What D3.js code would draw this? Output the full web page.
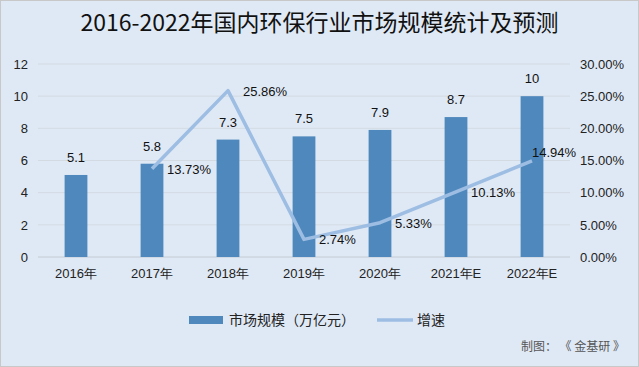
<!DOCTYPE html>
<meta charset="utf-8">
<script src="https://d3js.org/d3.v7.min.js"></script>
<style>
  body { margin: 0; }
  svg { display: block; font-family: "Noto Sans CJK SC", "Liberation Sans", sans-serif; }
</style>
<div id="chart"></div>
<script>
    // data
    const years = ["2016年", "2017年", "2018年", "2019年", "2020年", "2021年E", "2022年E"]
    const marketSize = [5.1, 5.8, 7.3, 7.5, 7.9, 8.7, 10]
    const growth = [null, 13.73, 25.86, 2.74, 5.33, 10.13, 14.94]
    const leftTicks = [0, 2, 4, 6, 8, 10, 12]
    const rightTicks = [0, 5, 10, 15, 20, 25, 30]

    const W = 639, H = 367
    const margin = {top: 64, right: 69, bottom: 110, left: 38}
    const width = W - margin.left - margin.right,
        height = H - margin.top - margin.bottom

    const barColor = "#4f88bc", lineColor = "#9dbde3"

    const svg = d3.select("#chart").append("svg")
        .attr("width", W).attr("height", H)

    // background + border
    svg.append("rect").attr("x", 0.5).attr("y", 0.5)
        .attr("width", W - 1).attr("height", H - 1)
        .attr("fill", "#dfe9f5").attr("stroke", "#c8c8c8")

    svg.append("text")
        .attr("x", W / 2).attr("y", 31)
        .attr("text-anchor", "middle")
        .style("font-size", "23px")
        .attr("fill", "#111")
        .text("2016-2022年国内环保行业市场规模统计及预测")

    const g = svg.append("g").attr("transform", `translate(${margin.left},${margin.top})`)

    const x = d3.scaleBand().domain(years).range([0, width]).paddingInner(0.7).paddingOuter(0.35)
    const y = d3.scaleLinear().domain([0, 12]).range([height, 0])
    const y2 = d3.scaleLinear().domain([0, 30]).range([height, 0])

    // gridlines
    g.append("g").selectAll("line").data(leftTicks).join("line")
        .attr("x1", 0).attr("x2", width)
        .attr("y1", d => y(d)).attr("y2", d => y(d))
        .attr("stroke", d => d === 0 ? "#c4cbd3" : "#d3dae2")

    // left axis
    const yAxis = g.append("g").call(d3.axisLeft(y).tickValues(leftTicks).tickSize(0).tickPadding(10))
    yAxis.select(".domain").remove()
    yAxis.selectAll("text").style("font-size", "13px").attr("fill", "#222").style("font-family", "Liberation Sans")

    // right axis
    const y2Axis = g.append("g").attr("transform", `translate(${width},0)`)
        .call(d3.axisRight(y2).tickValues(rightTicks).tickSize(0).tickPadding(10)
            .tickFormat(d => d.toFixed(2) + "%"))
    y2Axis.select(".domain").remove()
    y2Axis.selectAll("text").style("font-size", "13px").attr("fill", "#222").style("font-family", "Liberation Sans")

    // bottom axis
    const xAxis = g.append("g").attr("transform", `translate(0,${height})`)
        .call(d3.axisBottom(x).tickSize(0).tickPadding(12))
    xAxis.select(".domain").remove()
    xAxis.selectAll("text").style("font-size", "13px").attr("fill", "#222")

    // bars
    g.append("g").selectAll("rect").data(marketSize).join("rect")
        .attr("x", (d, i) => x(years[i]))
        .attr("y", d => y(d))
        .attr("width", x.bandwidth())
        .attr("height", d => height - y(d))
        .attr("fill", barColor)

    g.append("g").selectAll("text").data(marketSize).join("text")
        .attr("x", (d, i) => x(years[i]) + x.bandwidth() / 2)
        .attr("y", d => y(d) - 13)
        .attr("text-anchor", "middle")
        .style("font-size", "13px")
        .style("font-family", "Liberation Sans")
        .attr("fill", "#111")
        .text(d => d)

    // growth line
    const pts = growth.map((v, i) => ({v, cat: years[i]})).filter(p => p.v !== null)
    const cx = p => x(p.cat) + x.bandwidth() / 2
    g.append("path").datum(pts)
        .attr("d", d3.line().x(cx).y(p => y2(p.v)))
        .attr("fill", "none")
        .attr("stroke", lineColor)
        .attr("stroke-width", 3.5)
        .attr("stroke-linejoin", "round")

    g.append("g").selectAll("text").data(pts).join("text")
        .attr("x", (p, i) => i === pts.length - 1 ? cx(p) : cx(p) + 15)
        .attr("y", (p, i) => i === pts.length - 1 ? y2(p.v) - 4 : y2(p.v) + 5)
        .style("font-size", "13px")
        .style("font-family", "Liberation Sans")
        .attr("fill", "#111")
        .text(p => p.v.toFixed(2) + "%")

    // legend
    const lg = svg.append("g").attr("transform", "translate(189,320)")
    lg.append("rect").attr("x", 0).attr("y", -4).attr("width", 34).attr("height", 8).attr("fill", barColor)
    lg.append("text").attr("x", 40).attr("y", 5).style("font-size", "14px").attr("fill", "#222")
        .text("市场规模（万亿元）")
    lg.append("line").attr("x1", 188).attr("x2", 224).attr("y1", 0).attr("y2", 0)
        .attr("stroke", lineColor).attr("stroke-width", 3.5)
    lg.append("text").attr("x", 228).attr("y", 5).style("font-size", "14px").attr("fill", "#222")
        .text("增速")

    svg.append("text")
        .attr("x", 625).attr("y", 351)
        .attr("text-anchor", "end")
        .style("font-size", "12px")
        .attr("fill", "#555")
        .text("制图： 《 金基研 》")
</script>
